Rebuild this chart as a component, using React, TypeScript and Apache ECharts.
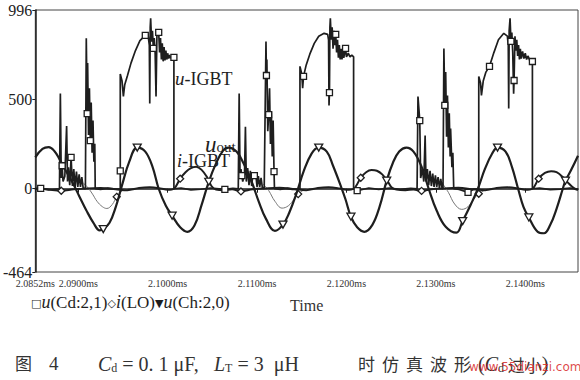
import React, { useEffect, useRef } from "react";
import * as echarts from "echarts";

// time axis in microseconds, labels shown in ms
const tMin = 2085.2;
const tMax = 2145.9;
const xTickValues = [2085.2, 2090, 2100, 2110, 2120, 2130, 2140];
const yTickValues = [-464, 0, 500, 996];
const yMin = -464;
const yMax = 996;

// [time(us), value, marker(1/0)]
const uCd: number[][] = [
  [2085.2, 0, 0], [2085.8, 2, 1], [2086.7, -6, 0], [2087.3, -3, 0], [2087.9, 0, 0],
  [2088.0, 530, 0], [2088.1, 60, 0], [2088.2, 128, 1], [2088.3, 40, 0], [2088.5, 70, 0], [2088.7, 350, 0], [2088.8, 40, 0], [2088.9, 120, 0], [2089.05, 20, 0], [2089.2, 175, 1], [2089.35, 15, 0], [2089.5, 110, 0], [2089.65, 10, 0], [2089.8, 95, 0], [2089.95, 10, 0], [2090.1, 80, 0], [2090.25, 10, 0], [2090.4, 65, 0], [2090.55, 5, 0], [2090.7, 0, 0],
  [2090.8, 0, 0], [2090.9, 838, 0], [2091.0, 419, 1], [2091.05, 700, 0], [2091.15, 300, 0], [2091.25, 560, 0], [2091.35, 268, 1], [2091.45, 480, 0], [2091.55, 200, 0], [2091.65, 380, 0], [2091.75, 150, 0], [2091.85, 250, 0], [2091.9, 0, 0],
  [2092.5, -4, 0], [2093.3, 3, 0], [2094.2, -2, 0], [2094.7, 0, 0], [2094.7, 100, 1],
  [2094.7, 640, 0], [2094.9, 600, 0], [2095.05, 514, 0], [2095.2, 580, 0], [2095.5, 630, 0], [2095.9, 700, 0], [2096.4, 770, 0], [2096.9, 825, 0], [2097.5, 855, 1], [2097.8, 860, 0], [2097.95, 800, 0], [2098.0, 475, 0], [2098.05, 900, 0], [2098.1, 950, 0], [2098.2, 820, 0], [2098.3, 880, 0], [2098.4, 782, 1], [2098.5, 840, 0], [2098.6, 760, 0], [2098.7, 514, 0], [2098.8, 850, 0], [2098.9, 880, 0], [2099.0, 871, 1], [2099.1, 760, 0], [2099.2, 840, 0], [2099.3, 720, 0], [2099.4, 810, 0], [2099.5, 710, 0], [2099.6, 790, 0], [2099.7, 715, 0], [2099.8, 770, 0], [2099.9, 720, 0], [2100.0, 755, 0], [2100.1, 725, 0], [2100.2, 745, 0], [2100.3, 728, 0], [2100.5, 740, 0], [2100.7, 732, 1], [2100.7, 0, 0],
  [2101.5, 4, 0], [2102.6, -6, 0], [2103.7, -3, 0], [2104.8, 4, 0], [2106.4, -4, 1], [2107.3, 2, 0], [2107.9, 0, 0],
  [2108.0, 531, 0], [2108.1, 60, 0], [2108.2, 110, 0], [2108.3, 73, 1], [2108.4, 40, 0], [2108.6, 80, 0], [2108.7, 346, 0], [2108.8, 40, 0], [2108.95, 115, 0], [2109.1, 20, 0], [2109.25, 100, 0], [2109.4, 15, 0], [2109.55, 90, 0], [2109.7, 73, 1], [2109.85, 85, 0], [2110.0, 10, 0], [2110.15, 70, 0], [2110.3, 10, 0], [2110.45, 60, 0], [2110.6, 5, 0], [2110.8, 0, 0],
  [2111.0, 821, 0], [2111.05, 631, 1], [2111.1, 720, 0], [2111.2, 320, 0], [2111.3, 413, 1], [2111.4, 560, 0], [2111.5, 250, 0], [2111.6, 430, 0], [2111.7, 180, 0], [2111.8, 380, 0], [2111.9, 95, 1], [2111.95, 0, 0],
  [2112.6, -4, 0], [2113.4, 3, 0], [2114.2, -2, 0], [2114.8, 0, 0],
  [2114.8, 682, 0], [2115.0, 640, 0], [2115.1, 560, 0], [2115.2, 626, 1], [2115.5, 690, 0], [2115.9, 750, 0], [2116.4, 810, 0], [2116.9, 850, 0], [2117.5, 866, 0], [2117.9, 860, 0], [2118.0, 830, 0], [2118.05, 464, 0], [2118.1, 536, 1], [2118.15, 900, 0], [2118.2, 950, 0], [2118.3, 830, 0], [2118.4, 900, 0], [2118.5, 780, 0], [2118.6, 880, 0], [2118.7, 800, 0], [2118.8, 860, 1], [2118.9, 760, 0], [2119.0, 830, 0], [2119.1, 730, 0], [2119.2, 800, 0], [2119.3, 720, 0], [2119.4, 780, 0], [2119.5, 720, 0], [2119.6, 770, 0], [2119.7, 730, 0], [2119.9, 782, 1], [2120.0, 735, 0], [2120.2, 755, 0], [2120.4, 735, 0], [2120.6, 745, 0], [2120.8, 735, 0], [2120.8, 0, 0],
  [2121.2, -11, 1], [2122.5, 4, 0], [2123.6, -4, 0], [2124.8, 3, 0], [2126.0, -3, 0], [2127.2, 2, 0], [2127.9, 0, 0],
  [2128.0, 514, 0], [2128.2, 380, 1], [2128.3, 60, 0], [2128.5, 110, 0], [2128.65, 40, 0], [2128.8, 296, 0], [2128.9, 40, 0], [2129.05, 110, 0], [2129.2, 20, 0], [2129.35, 100, 0], [2129.5, 15, 0], [2129.65, 85, 0], [2129.8, 10, 0], [2129.95, 75, 0], [2130.1, 10, 0], [2130.25, 65, 0], [2130.4, 5, 0], [2130.55, 55, 0], [2130.7, 0, 0],
  [2130.8, 0, 0], [2130.9, 782, 0], [2131.0, 464, 1], [2131.1, 650, 0], [2131.2, 290, 0], [2131.3, 520, 0], [2131.4, 230, 0], [2131.5, 420, 0], [2131.6, 180, 0], [2131.65, 335, 0], [2131.8, 120, 0], [2131.9, 200, 0], [2132.0, 0, 0],
  [2132.6, -4, 0], [2133.6, -20, 1], [2134.3, -2, 0], [2134.8, 0, 0],
  [2134.8, 626, 0], [2135.0, 590, 0], [2135.1, 520, 0], [2135.3, 600, 0], [2135.6, 650, 0], [2136.0, 682, 1], [2136.5, 760, 0], [2137.0, 830, 0], [2137.6, 866, 0], [2138.0, 850, 0], [2138.1, 800, 0], [2138.15, 447, 0], [2138.2, 880, 0], [2138.3, 950, 0], [2138.4, 821, 1], [2138.5, 870, 0], [2138.6, 760, 0], [2138.7, 530, 0], [2138.75, 603, 1], [2138.85, 850, 0], [2138.95, 770, 0], [2139.05, 830, 0], [2139.15, 740, 0], [2139.25, 800, 0], [2139.35, 720, 0], [2139.45, 780, 0], [2139.55, 725, 0], [2139.7, 765, 0], [2139.85, 725, 0], [2140.0, 755, 0], [2140.15, 720, 0], [2140.3, 740, 0], [2140.5, 715, 0], [2140.8, 709, 1], [2140.8, 0, 0],
  [2141.6, 3, 0], [2142.8, -5, 0], [2143.9, -2, 0], [2145.0, 3, 0], [2145.9, -3, 0],
];

const uCh: number[][] = [
  [2085.2, 175, 0], [2086.0, 222, 0], [2086.7, 232, 0], [2087.3, 212, 0], [2087.9, 165, 0], [2088.5, 110, 0], [2089.3, 40, 0], [2090.1, -40, 0], [2090.9, -120, 0], [2091.7, -190, 0], [2092.4, -232, 0], [2092.8, -225, 1], [2093.5, -190, 0], [2094.2, -101, 0], [2094.9, 20, 0], [2095.7, 150, 0], [2096.6, 229, 1], [2097.5, 207, 0], [2098.3, 123, 0], [2099.0, 0, 0], [2099.8, -95, 0], [2100.5, -150, 1], [2101.4, -215, 0], [2102.2, -240, 0], [2103.0, -205, 0], [2103.8, -90, 0], [2104.6, 39, 1], [2105.4, 140, 0], [2106.2, 212, 0], [2106.8, 229, 0], [2107.7, 207, 0], [2108.5, 140, 0], [2109.4, 39, 0], [2110.2, -73, 0], [2111.0, -168, 0], [2112.0, -235, 0], [2112.9, -200, 1], [2113.6, -134, 0], [2114.4, -28, 0], [2115.2, 95, 0], [2116.1, 196, 0], [2116.9, 229, 1], [2117.8, 207, 0], [2118.5, 128, 0], [2119.4, 11, 0], [2119.9, -60, 0], [2120.5, -156, 1], [2121.2, -215, 0], [2122.0, -240, 0], [2122.9, -201, 0], [2123.7, -101, 0], [2124.5, 45, 1], [2125.2, 145, 0], [2125.9, 207, 0], [2126.7, 229, 0], [2127.5, 207, 0], [2128.4, 123, 0], [2129.2, 0, 0], [2130.1, -123, 0], [2131.1, -212, 0], [2132.3, -245, 0], [2133.0, -180, 1], [2133.9, -89, 0], [2134.7, 0, 0], [2135.5, 112, 0], [2136.3, 196, 0], [2136.9, 229, 1], [2137.8, 207, 0], [2138.5, 123, 0], [2139.2, 0, 0], [2139.8, -101, 0], [2140.4, -160, 1], [2141.4, -240, 0], [2142.1, -248, 0], [2142.8, -201, 0], [2143.5, -112, 0], [2144.2, 0, 0], [2144.5, 45, 1], [2145.1, 101, 0], [2145.9, 184, 0],
];

const iLO: number[][] = [
  [2085.2, 2, 0], [2086.5, -3, 0], [2088.1, -11, 1], [2089.5, -3, 0], [2091.0, 2, 0], [2092.5, 4, 0], [2094.2, -3, 0], [2095.5, -8, 0], [2096.8, 4, 0], [2098.0, 8, 0], [2099.2, 2, 0], [2100.0, -6, 0], [2100.7, 0, 0],
  [2101.4, 56, 1], [2102.0, 92, 0], [2102.6, 115, 0], [2103.2, 123, 0], [2103.8, 105, 0], [2104.4, 65, 0], [2104.9, 15, 0], [2105.4, -5, 0],
  [2106.3, -8, 0], [2107.2, -3, 0], [2108.2, -15, 1], [2109.5, -3, 0], [2111.0, 2, 0], [2112.5, 5, 0], [2114.2, -3, 0], [2115.5, -8, 0], [2116.8, 4, 0], [2118.0, 8, 0], [2119.2, 2, 0], [2120.0, -6, 0], [2120.8, 0, 0],
  [2121.6, 61, 1], [2122.2, 92, 0], [2122.8, 104, 0], [2123.4, 100, 0], [2124.0, 80, 0], [2124.6, 42, 0], [2125.1, 5, 0], [2125.6, -5, 0],
  [2126.6, -8, 0], [2127.5, -4, 0], [2128.4, -12, 1], [2129.5, -3, 0], [2131.0, 2, 0], [2132.5, 5, 0], [2134.2, -3, 0], [2135.5, -8, 0], [2136.8, 4, 0], [2138.0, 8, 0], [2139.2, 2, 0], [2140.0, -6, 0], [2140.8, 0, 0],
  [2141.5, 56, 1], [2142.2, 88, 0], [2142.9, 98, 0], [2143.5, 92, 0], [2144.2, 65, 0], [2144.9, 28, 0], [2145.4, 5, 0], [2145.9, -8, 0],
];

const dip1: number[][] = [[2090.6, 30, 0], [2091.1, 5, 0], [2091.6, -30, 0], [2092.1, -70, 0], [2092.7, -100, 0], [2093.2, -110, 0], [2093.8, -88, 0], [2094.3, -45, 1], [2094.9, -12, 0], [2095.5, 0, 0]];
const dip2: number[][] = [[2110.7, 25, 0], [2111.3, -10, 0], [2112.0, -70, 0], [2112.8, -108, 0], [2113.5, -95, 0], [2114.2, -55, 0], [2114.6, -30, 1], [2115.2, -8, 0], [2115.8, 0, 0]];
const dip3: number[][] = [[2130.6, 39, 0], [2131.4, -20, 0], [2132.1, -85, 0], [2132.9, -115, 0], [2133.6, -100, 0], [2134.2, -60, 0], [2134.8, -28, 1], [2135.5, -8, 0], [2136.0, 0, 0]];

const INK = "#1e1e1e";
const SERIF = "Liberation Serif";
const CJK = "Noto Sans CJK SC";
const TRI = "path://M0,0L10,0L5,9Z";

function items(arr: number[][], sym: string) {
  return arr.map(([t, v, m]) => ({ value: [t, v], symbol: m ? sym : "none" }));
}

export default function App() {
  const ref = useRef<HTMLDivElement>(null);
  useEffect(() => {
    if (!ref.current) return;
    const chart = echarts.init(ref.current, null, { renderer: "svg" });
    const markerStyle = { color: "#fff", borderColor: INK, borderWidth: 1.3 };
    const dipSeries = [dip1, dip2, dip3].map((d) => ({
      type: "line",
      data: items(d, "diamond"),
      symbol: "diamond",
      symbolSize: 7,
      smooth: 0.4,
      lineStyle: { color: "#777", width: 1 },
      itemStyle: markerStyle,
      silent: true,
      z: 1,
    }));
    const capRich = {
      it: { fontFamily: SERIF, fontStyle: "italic", fontSize: 20, fill: "#333" },
      sub: { fontFamily: SERIF, fontSize: 12, fill: "#333", padding: [8, 0, 0, 0] },
      n: { fontFamily: SERIF, fontSize: 20, fill: "#333" },
      cn: { fontFamily: CJK, fontSize: 17, fill: "#333" },
    };
    chart.setOption({
      animation: false,
      backgroundColor: "#fff",
      grid: { left: 33, right: 2, top: 10, bottom: 108, show: true, borderColor: "#444", borderWidth: 1 },
      xAxis: {
        type: "value",
        min: tMin,
        max: tMax,
        name: "Time",
        nameLocation: "middle",
        nameGap: 25,
        nameTextStyle: { fontFamily: SERIF, fontSize: 16, color: "#333" },
        axisLine: { show: true, lineStyle: { color: INK, width: 1.5 } },
        axisTick: { show: true, length: 4, customValues: xTickValues, lineStyle: { color: INK } },
        axisLabel: {
          customValues: xTickValues,
          formatter: (v: number) => (v / 1000).toFixed(4) + "ms",
          fontFamily: SERIF,
          fontSize: 10,
          color: "#333",
          margin: 6,
        },
        splitLine: { show: false },
      },
      yAxis: {
        type: "value",
        min: yMin,
        max: yMax,
        axisLine: { show: true, lineStyle: { color: INK, width: 1.5 } },
        axisTick: { show: true, length: 3, customValues: yTickValues, lineStyle: { color: INK } },
        axisLabel: { customValues: yTickValues, fontFamily: SERIF, fontSize: 16, color: "#222", margin: 3 },
        splitLine: { show: false },
      },
      series: [
        ...dipSeries,
        {
          type: "line",
          name: "i(LO)",
          data: items(iLO, "diamond"),
          symbol: "diamond",
          symbolSize: 7,
          smooth: 0.35,
          lineStyle: { color: INK, width: 2 },
          itemStyle: markerStyle,
          silent: true,
          z: 2,
        },
        {
          type: "line",
          name: "u(Ch:2,0)",
          data: items(uCh, TRI),
          symbol: TRI,
          symbolSize: [8, 7],
          smooth: 0.4,
          lineStyle: { color: INK, width: 2.2 },
          itemStyle: markerStyle,
          silent: true,
          z: 3,
        },
        {
          type: "line",
          name: "u(Cd:2,1)",
          data: items(uCd, "rect"),
          symbol: "rect",
          symbolSize: 6,
          lineStyle: { color: INK, width: 1.7 },
          itemStyle: markerStyle,
          silent: true,
          z: 4,
        },
      ],
      graphic: [
        {
          type: "text", left: 175, top: 69,
          style: {
            text: "{i|u}{n|-IGBT}",
            rich: { i: { fontFamily: SERIF, fontStyle: "italic", fontSize: 19, fill: INK }, n: { fontFamily: SERIF, fontSize: 18, fill: INK } },
          },
        },
        {
          type: "text", left: 205, top: 133,
          style: {
            text: "{i|u}{s|out}",
            rich: { i: { fontFamily: SERIF, fontStyle: "italic", fontSize: 23, fill: INK }, s: { fontFamily: SERIF, fontSize: 15, fill: INK, padding: [4, 0, 0, 0] } },
          },
        },
        {
          type: "text", left: 177, top: 152,
          style: {
            text: "{i|i}{n|-IGBT}",
            rich: { i: { fontFamily: SERIF, fontStyle: "italic", fontSize: 18, fill: INK }, n: { fontFamily: SERIF, fontSize: 18, fill: INK } },
          },
        },
        {
          type: "text", left: 31, top: 293,
          style: {
            text: "{g|□}{i|u}{n|(Cd:2,1)}{g|◇}{i|i}{n|(LO)}{g|▼}{i|u}{n|(Ch:2,0)}",
            rich: {
              g: { fontFamily: "DejaVu Sans", fontSize: 11, fill: INK, fontWeight: "bold", padding: [2, 0, 0, 0] },
              i: { fontFamily: SERIF, fontStyle: "italic", fontSize: 18, fill: INK },
              n: { fontFamily: SERIF, fontSize: 17, fill: INK },
            },
          },
        },
        { type: "text", left: 15, top: 354, style: { text: "图", fontFamily: CJK, fontSize: 17, fill: "#333" } },
        { type: "text", left: 49, top: 354, style: { text: "4", fontFamily: SERIF, fontSize: 19, fill: "#333" } },
        { type: "text", left: 98, top: 354, style: { text: "{it|C}{sub|d}{n| = 0. 1 μF,}", rich: capRich } },
        { type: "text", left: 214, top: 354, style: { text: "{it|L}{sub|T}{n| = 3  μH}", rich: capRich } },
        ...["时", "仿", "真", "波", "形"].map((c, k) => ({
          type: "text", left: 358 + k * 24, top: 355, style: { text: c, fontFamily: CJK, fontSize: 17, fill: "#333" },
        })),
        { type: "text", left: 478, top: 354, style: { text: "{n|(}{it|C}{sub|d}{cn| 过小}{n|)}", rich: capRich } },
        {
          type: "text", left: 469, top: 361,
          style: { text: "www.55dianzi.com", fontFamily: "DejaVu Sans", fontSize: 12, fill: "rgba(215,40,40,0.85)" },
        },
      ],
    });
    return () => chart.dispose();
  }, []);
  return <div ref={ref} style={{ position: "fixed", left: 0, top: 0, width: 580, height: 380 }} />;
}
